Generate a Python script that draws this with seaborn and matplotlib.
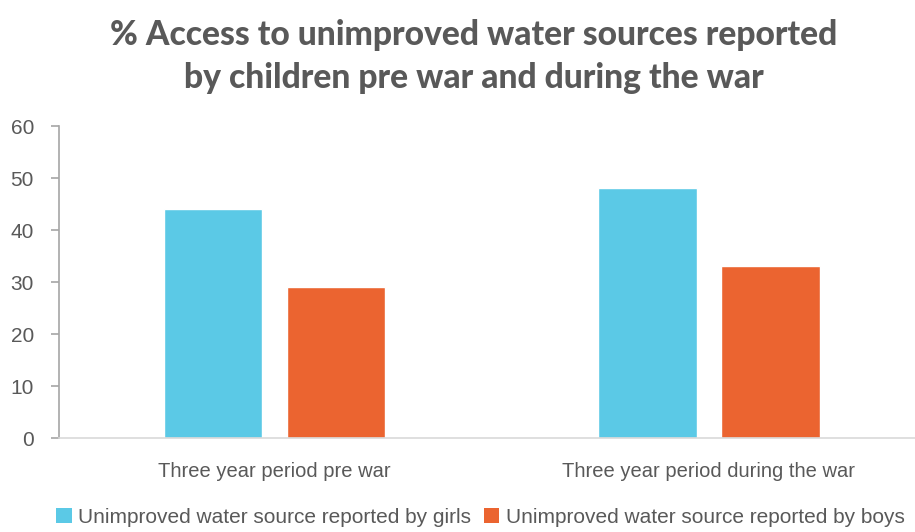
import matplotlib
matplotlib.use("Agg")
import matplotlib.pyplot as plt
import seaborn as sns
import pandas as pd

categories = ["Three year period pre war", "Three year period during the war"]
series_names = ["Unimproved water source reported by girls", "Unimproved water source reported by boys"]
girls = [44, 48]
boys = [29, 33]
colors = ["#5BC9E6", "#EB6430"]
yticks = [0, 10, 20, 30, 40, 50, 60]

df = pd.DataFrame({
    "period": categories * 2,
    "series": [series_names[0]] * 2 + [series_names[1]] * 2,
    "value": girls + boys,
})

sns.set_theme(style="white")
plt.rcParams["font.family"] = ["Liberation Sans", "DejaVu Sans"]

fig = plt.figure(figsize=(9.15, 5.32), dpi=100)
ax = fig.add_axes([59 / 915, (532 - 438) / 532, (915 - 59) / 915, (438 - 126) / 532])

sns.barplot(data=df, x="period", y="value", hue="series", palette=colors,
            order=categories, hue_order=series_names, width=0.567, gap=0.2,
            saturation=1, ax=ax, legend=False)

ax.set_xlim(-0.497, 1.475)
ax.set_ylim(0, 60)
ax.set_yticks(yticks)
ax.set_xlabel("")
ax.set_ylabel("")
for s in ["top", "right"]:
    ax.spines[s].set_visible(False)
ax.spines["left"].set_color("#A6A6A6")
ax.spines["left"].set_linewidth(1.2)
ax.spines["bottom"].set_color("#D9D9D9")
ax.spines["bottom"].set_linewidth(1.2)
ax.tick_params(axis="y", which="both", left=True, length=6, width=1.2, color="#A6A6A6",
               labelsize=15, labelcolor="#595959", pad=12)
ax.tick_params(axis="x", bottom=False, labelsize=14.5, labelcolor="#595959", pad=11)

fig.text(0.518, 0.965, "% Access to unimproved water sources reported\nby children pre war and during the war",
         ha="center", va="top", fontsize=24.2, fontweight="black", color="#595959",
         family=["Lato", "DejaVu Sans"], linespacing=1.42)

from matplotlib.patches import Patch
handles = [Patch(facecolor=c, edgecolor="none") for c in colors]
fig.legend(handles, series_names, loc="lower center", bbox_to_anchor=(0.525, -0.025), ncol=2,
           frameon=False, fontsize=15, handlelength=0.75, handleheight=0.75, handletextpad=0.3,
           columnspacing=0.6, labelcolor="#595959")

fig.savefig("out.png", dpi=100)
